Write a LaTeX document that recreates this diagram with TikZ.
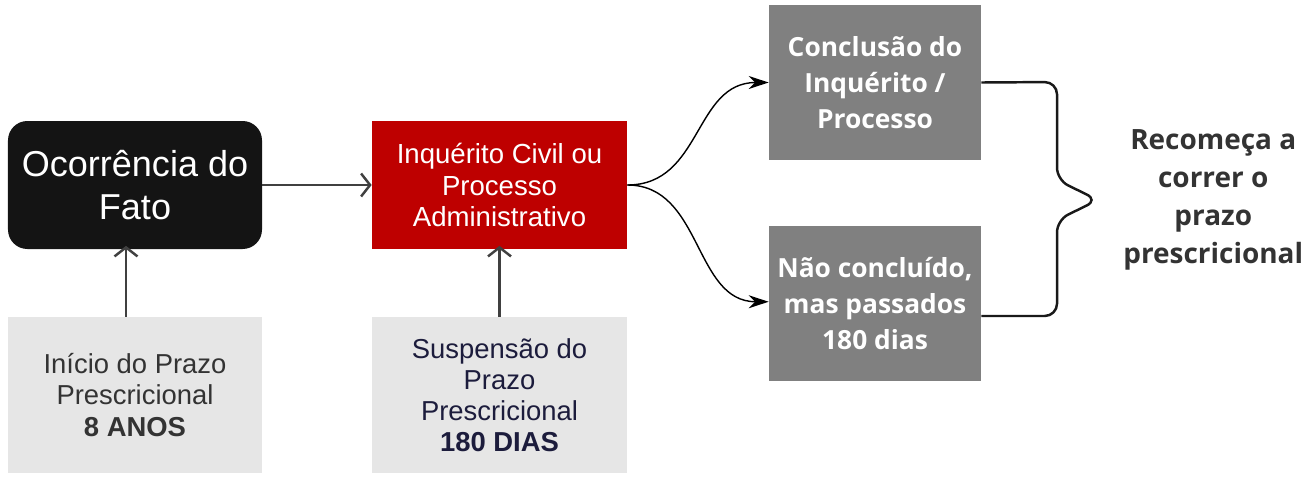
\documentclass[tikz,border=0pt]{standalone}
\usepackage{fontspec}
\setmainfont{Liberation Sans}
\newfontfamily\opensans{Open Sans}
\usepackage{xcolor}
\usetikzlibrary{arrows.meta}
\usetikzlibrary{calc}
\usetikzlibrary{positioning}

\definecolor{fatoblack}{HTML}{141414}
\definecolor{inqred}{HTML}{BE0000}
\definecolor{stepgray}{HTML}{808080}
\definecolor{notegray}{HTML}{E6E6E6}
\definecolor{notetext}{HTML}{333333}
\definecolor{navytext}{HTML}{1C1C3C}
\definecolor{linkgray}{HTML}{404040}

\tikzset{
  fatobox/.style={fill=fatoblack, rounded corners=11pt, text=white, inner sep=0pt,
    minimum width=5.08cm, minimum height=2.56cm, align=center,
    font=\fontsize{20.5}{24.4}\selectfont},
  inqbox/.style={fill=inqred, text=white, inner sep=0pt,
    minimum width=5.10cm, minimum height=2.56cm, align=center,
    font=\fontsize{15.7}{17.9}\selectfont},
  notebox/.style={fill=notegray, text=notetext, inner sep=0pt,
    minimum width=5.08cm, minimum height=3.12cm, align=center,
    font=\fontsize{15.6}{17.7}\selectfont},
  stepbox/.style={fill=stepgray, text=white, inner sep=0pt,
    minimum width=4.24cm, minimum height=3.10cm, align=center,
    font=\opensans\bfseries\fontsize{15}{20.4}\selectfont},
  uplink/.style={draw=linkgray, line width=1.4pt, -{Straight Barb[length=1.8mm,width=4.6mm]}},
  curvelink/.style={draw=black, line width=0.8pt, -{Stealth[length=4mm,width=2.6mm]}},
  bracelink/.style={draw=black!90, line width=1.4pt, rounded corners=7pt}
}

\begin{document}
\begin{tikzpicture}
    \useasboundingbox (0,0) rectangle (26.02,9.6);

    \node [fatobox] (fato) at (2.70,5.90) {Ocorrência do\\Fato};
    \node [notebox] (inicio) at (2.70,1.70) {Início do Prazo\\Prescricional\\\textbf{8 ANOS}};
    \node [inqbox] (inquerito) at (9.99,5.90) {Inquérito Civil ou\\Processo\\Administrativo};
    \node [notebox, text=navytext, minimum width=5.10cm] (suspensao) at (9.99,1.70) {Suspensão do\\Prazo\\Prescricional\\\textbf{180 DIAS}};
    \node [stepbox] (conclusao) at (17.50,7.95) {Conclusão do\\Inquérito /\\Processo};
    \node [stepbox] (naoconcl) at (17.50,3.53) {Não concluído,\\mas passados\\180 dias};

    \coordinate (bracetip) at (21.96,5.60);
    \node [right=0.5cm of bracetip, text=notetext, align=center, inner sep=0pt,
      font=\opensans\bfseries\fontsize{15.9}{21.5}\selectfont] (recomeca)
      {Recomeça a\\correr o\\prazo\\prescricional};

    \draw [uplink] ([xshift=-0.18cm]inicio.north) -- ([xshift=-0.18cm,yshift=2pt]fato.south);
    \draw [uplink] (fato.east) -- (inquerito.west);
    \draw [uplink] (suspensao.north) -- ([yshift=2pt]inquerito.south);

    \draw [curvelink] (inquerito.east) .. controls +(1.5,0) and +(-1.5,0) .. (conclusao.west);
    \draw [curvelink] (inquerito.east) .. controls +(1.5,0) and +(-1.5,0) .. ([yshift=1pt]naoconcl.west);

    \draw [bracelink] (conclusao.east) -- (21.14,7.96) -- (21.14,6.0) -- (bracetip)
      -- (21.14,5.2) -- (21.14,3.28) -- ($(naoconcl.east)+(0,-0.25)$);
\end{tikzpicture}
\end{document}
